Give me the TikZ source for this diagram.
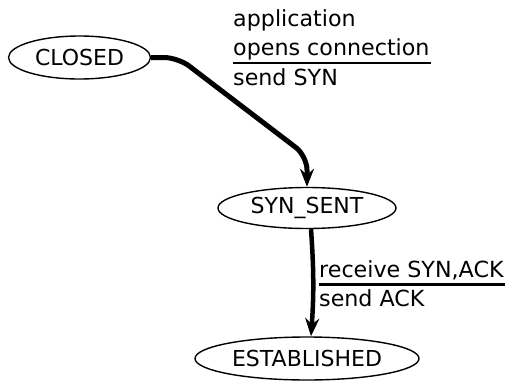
\documentclass[tikz,border=0pt]{standalone}
\usepackage{fontspec}
\setmainfont{DejaVu Sans}
\usetikzlibrary{arrows.meta,shapes.geometric}
\begin{document}
\begin{tikzpicture}[x=1pt,y=-1pt,
  state/.style={draw,ellipse,line width=1.4pt,inner sep=0pt,font=\fontsize{22}{24}\selectfont},
  lbl/.style={anchor=base west,inner sep=0pt,font=\fontsize{22.2}{24}\selectfont},
  tip/.style={-{Stealth[length=18pt,width=14pt,inset=6pt]}},
  trans/.style={line width=5pt,tip},
  rule/.style={line width=2.2pt}]
\useasboundingbox (0,0) rectangle (506,381);

% states
\node[state,minimum width=142pt,minimum height=43pt] (C) at (79.5,57.5) {CLOSED};
\node[state,minimum width=178pt,minimum height=41pt] (S) at (307,208) {SYN\_SENT};
\node[state,minimum width=224pt,minimum height=43pt] (E) at (307,358.5) {ESTABLISHED};

% transitions
\draw[trans,rounded corners=14pt] (C.east) -- (178,57.5) -- (307,156) -- (S.north);
\draw[line width=4.5pt,tip]
  ([xshift=4pt]S.south) to[bend left=4] ([xshift=4pt]E.north);

% label of CLOSED -> SYN_SENT
\node[lbl] (a1) at (233,26) {application};
\node[lbl] (a2) at (233,55) {opens connection};
\node[lbl] (a3) at (233,85) {send SYN};
\draw[rule] (233,63) -- (431,63);

% label of SYN_SENT -> ESTABLISHED
\node[lbl] (b1) at (319,277) {receive SYN,ACK};
\node[lbl] (b2) at (319,306) {send ACK};
\draw[rule] (319,284.5) -- (505,284.5);
\end{tikzpicture}
\end{document}
